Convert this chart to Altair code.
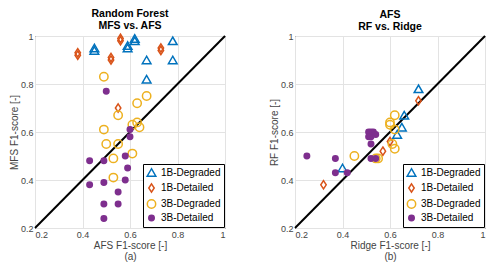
import altair as alt
import pandas as pd

series_names = ["1B-Degraded", "1B-Detailed", "3B-Degraded", "3B-Detailed"]
stroke_colors = ["#0072BD", "#D95319", "#EDB120", "#7E2F8E"]
fill_colors = ["transparent", "transparent", "transparent", "#7E2F8E"]
shapes = ["triangle-up", "M0,-1L0.65,0L0,1L-0.65,0Z", "circle", "circle"]
sizes = [75, 70, 70, 30]

# Panel (a): AFS (x) vs MFS (y), Random Forest
a_1bdeg_x = [0.45, 0.45, 0.59, 0.59, 0.62, 0.62, 0.78, 0.67, 0.78, 0.67]
a_1bdeg_y = [0.94, 0.95, 0.95, 0.96, 0.98, 0.99, 0.98, 0.90, 0.90, 0.82]
a_1bdet_x = [0.38, 0.38, 0.56, 0.56, 0.52, 0.52, 0.73, 0.73, 0.55]
a_1bdet_y = [0.92, 0.93, 0.98, 0.99, 0.90, 0.91, 0.94, 0.95, 0.70]
a_3bdeg_x = [0.49, 0.67, 0.63, 0.55, 0.61, 0.63, 0.64, 0.49, 0.50, 0.55, 0.53, 0.61, 0.53]
a_3bdeg_y = [0.83, 0.75, 0.72, 0.67, 0.63, 0.64, 0.62, 0.61, 0.55, 0.55, 0.49, 0.51, 0.41]
a_3bdet_x = [0.50, 0.60, 0.60, 0.43, 0.49, 0.58, 0.59, 0.43, 0.49, 0.58, 0.55, 0.49, 0.55, 0.49]
a_3bdet_y = [0.77, 0.61, 0.58, 0.48, 0.48, 0.50, 0.45, 0.38, 0.39, 0.40, 0.35, 0.30, 0.30, 0.24]

# Panel (b): Ridge (x) vs RF (y), AFS
b_1bdeg_x = [0.72, 0.66, 0.65, 0.63, 0.40]
b_1bdeg_y = [0.78, 0.67, 0.62, 0.59, 0.45]
b_1bdet_x = [0.72, 0.60, 0.57, 0.32]
b_1bdet_y = [0.73, 0.56, 0.52, 0.38]
b_3bdeg_x = [0.62, 0.60, 0.60, 0.62, 0.61, 0.62, 0.45, 0.54, 0.55]
b_3bdeg_y = [0.67, 0.64, 0.63, 0.61, 0.55, 0.53, 0.50, 0.49, 0.49]
b_3bdet_x = [0.51, 0.52, 0.53, 0.51, 0.52, 0.54, 0.52, 0.25, 0.37, 0.52, 0.54, 0.37, 0.42]
b_3bdet_y = [0.60, 0.60, 0.60, 0.58, 0.58, 0.59, 0.55, 0.50, 0.49, 0.49, 0.49, 0.43, 0.43]

diag_vals = [0.2, 1.0]
tick_vals = [0.2, 0.4, 0.6, 0.8, 1.0]


def make_df(groups):
    rows = []
    for name, xs, ys in groups:
        for x, y in zip(xs, ys):
            rows.append({"series": name, "x": x, "y": y})
    return pd.DataFrame(rows)


df_a = make_df([
    ("1B-Degraded", a_1bdeg_x, a_1bdeg_y),
    ("1B-Detailed", a_1bdet_x, a_1bdet_y),
    ("3B-Degraded", a_3bdeg_x, a_3bdeg_y),
    ("3B-Detailed", a_3bdet_x, a_3bdet_y),
])
df_b = make_df([
    ("1B-Degraded", b_1bdeg_x, b_1bdeg_y),
    ("1B-Detailed", b_1bdet_x, b_1bdet_y),
    ("3B-Degraded", b_3bdeg_x, b_3bdeg_y),
    ("3B-Detailed", b_3bdet_x, b_3bdet_y),
])
df_diag = pd.DataFrame({"x": diag_vals, "y": diag_vals})


def panel(df, title, xtitle, ytitle):
    xsc = alt.Scale(domain=[0.2, 1.0], nice=False)
    ysc = alt.Scale(domain=[0.2, 1.0], nice=False)
    xax = alt.Axis(values=tick_vals, format="~g", title=xtitle, titleLineHeight=11)
    yax = alt.Axis(values=tick_vals, format="~g", title=ytitle)
    line = alt.Chart(df_diag).mark_line(color="black", strokeWidth=2).encode(
        x=alt.X("x:Q", scale=xsc, axis=xax),
        y=alt.Y("y:Q", scale=ysc, axis=yax),
    )
    leg = alt.Legend(
        title=None, orient="bottom-right", offset=1,
        strokeColor="black", fillColor="white", padding=3,
        labelFontSize=10, labelColor="black", rowPadding=0,
        symbolStrokeWidth=1.5, labelOffset=4,
    )
    pts = alt.Chart(df).mark_point(strokeWidth=1.5, opacity=1).encode(
        x=alt.X("x:Q", scale=xsc, axis=xax),
        y=alt.Y("y:Q", scale=ysc, axis=yax),
        stroke=alt.Stroke("series:N", scale=alt.Scale(domain=series_names, range=stroke_colors), legend=leg),
        fill=alt.Fill("series:N", scale=alt.Scale(domain=series_names, range=fill_colors), legend=leg),
        shape=alt.Shape("series:N", scale=alt.Scale(domain=series_names, range=shapes), legend=leg),
        size=alt.Size("series:N", scale=alt.Scale(type="ordinal", domain=series_names, range=sizes), legend=leg),
    )
    return alt.layer(line, pts).properties(
        width=190, height=192,
        title=alt.TitleParams(title, fontSize=10.5, fontWeight="bold", anchor="middle",
                              offset=0, lineHeight=11.5, color="black"),
    )


left = panel(df_a, ["Random Forest", "MFS vs. AFS"], ["AFS F1-score [-]", "(a)"], "MFS F1-score [-]")
right = panel(df_b, ["AFS", "RF vs. Ridge"], ["Ridge F1-score [-]", "(b)"], "RF F1-score [-]")

chart = alt.hconcat(left, right, spacing=38).resolve_legend(
    stroke="independent", fill="independent", shape="independent", size="independent"
).properties(padding=0).configure_view(
    stroke="black", strokeWidth=1
).configure_axis(
    labelFont="Liberation Sans", titleFont="Liberation Sans",
    labelFontSize=9, titleFontSize=10, labelColor="#444444", titleColor="#444444",
    titleFontWeight="normal", gridColor="#e3e3e3", domain=False, ticks=False,
    labelPadding=2, titlePadding=1,
).configure_title(font="Liberation Sans").configure_legend(
    labelFont="Liberation Sans"
)

chart.save("out.html", embed_options={"renderer": "svg", "actions": False})
